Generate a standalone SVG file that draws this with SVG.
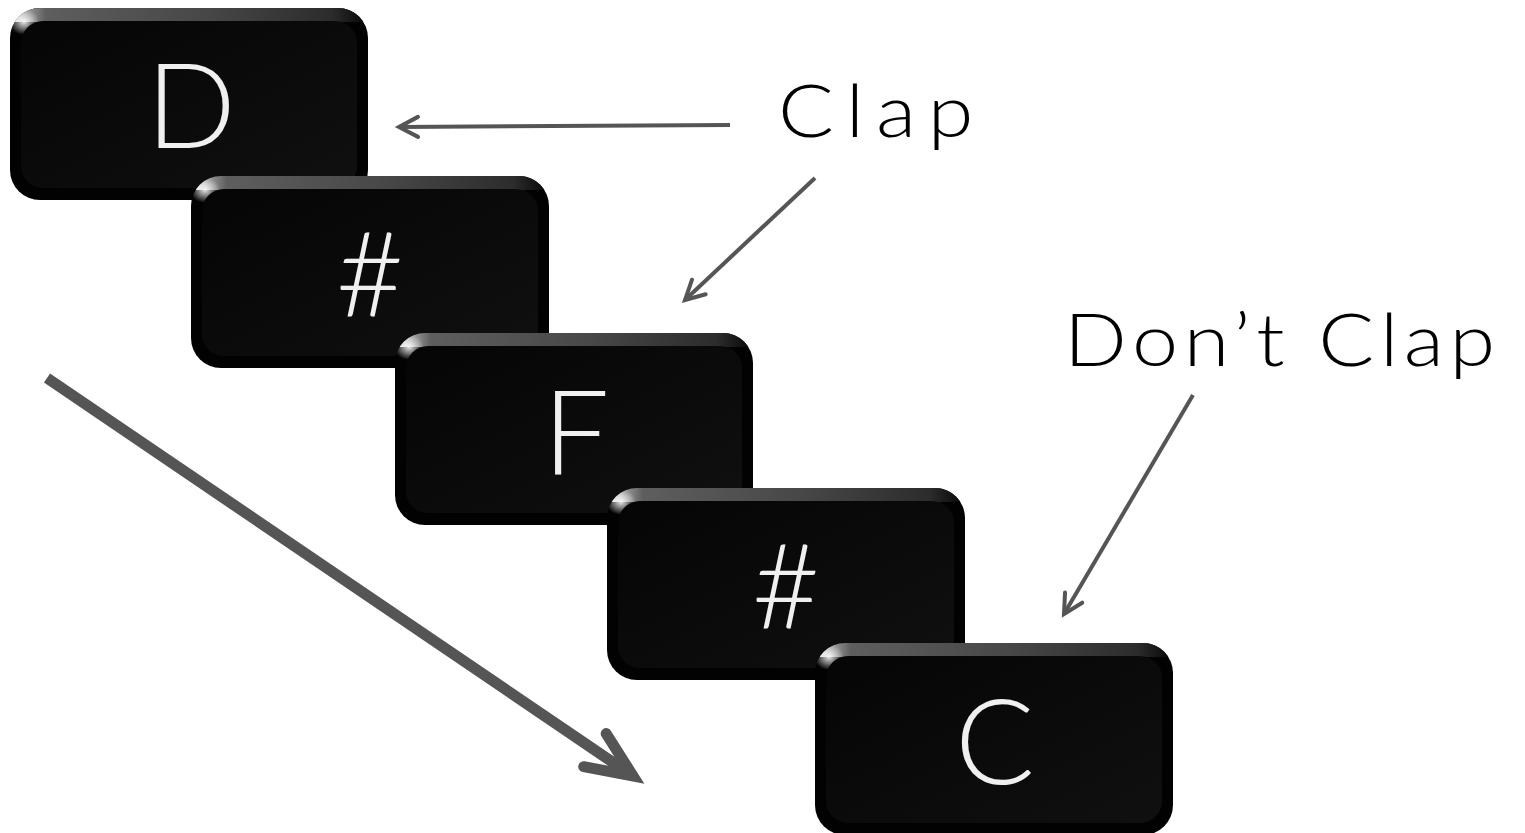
<svg xmlns="http://www.w3.org/2000/svg" xmlns:xlink="http://www.w3.org/1999/xlink" width="1525" height="833" viewBox="0 0 1525 833">
<style>
.lbl{font-family:Lato,"Liberation Sans",sans-serif;font-weight:300;font-size:72px;fill:#000;}
.key-t{font-family:Lato,"Liberation Sans",sans-serif;font-weight:300;font-size:118px;fill:#f0f0f0;text-anchor:middle;}
.conn{fill:none;stroke:#555;stroke-width:4;}
.big{fill:none;stroke:#555;stroke-width:11;}
</style>
<defs>
<linearGradient id="hl" x1="0" y1="0" x2="1" y2="0">
<stop offset="0" stop-color="#ffffff"/>
<stop offset="0.05" stop-color="#9a9a9a"/>
<stop offset="0.1" stop-color="#5e5e5e"/>
<stop offset="0.55" stop-color="#474747"/>
<stop offset="0.9" stop-color="#2c2c2c"/>
<stop offset="1" stop-color="#050505"/>
</linearGradient>
<linearGradient id="face" x1="0" y1="0" x2="1" y2="1">
<stop offset="0" stop-color="#050505"/>
<stop offset="1" stop-color="#101010"/>
</linearGradient>
<radialGradient id="corner" cx="0.5" cy="0.5" r="0.5">
<stop offset="0" stop-color="#ffffff" stop-opacity="0.9"/>
<stop offset="1" stop-color="#ffffff" stop-opacity="0"/>
</radialGradient>
<clipPath id="kclip">
<rect x="0" y="0" width="358" height="192" rx="30"/>
</clipPath>
<g id="key">
<rect x="0" y="0" width="358" height="192" rx="30" fill="#020202"/>
<g clip-path="url(#kclip)">
<rect x="0" y="0" width="358" height="14" fill="url(#hl)"/>
<ellipse cx="14" cy="14" rx="15" ry="13" fill="url(#corner)"/>
</g>
<rect x="11" y="13" width="336" height="167" rx="22" fill="url(#face)"/>
</g>
<marker id="ah" markerUnits="userSpaceOnUse" viewBox="-30 -20 40 40" refX="0" refY="0" markerWidth="40" markerHeight="40" orient="auto" overflow="visible">
<path d="M-19,-10 L0,0 L-19,10" fill="none" stroke="#555" stroke-width="4" stroke-linecap="round"/>
</marker>
<marker id="ahb" markerUnits="userSpaceOnUse" viewBox="-70 -40 90 80" refX="0" refY="0" markerWidth="90" markerHeight="80" orient="auto" overflow="visible">
<path d="M-46,-20 L0,0 L-46,20" fill="none" stroke="#555" stroke-width="11" stroke-linecap="round"/>
</marker>
</defs>
<rect width="1525" height="833" fill="#fff"/>
<g id="key-d" transform="translate(10,8)">
<use xlink:href="#key"/>
<text class="key-t" x="181" y="140">D</text>
</g>
<g id="key-sharp1" transform="translate(191,176)">
<use xlink:href="#key"/>
<text class="key-t" x="179" y="140">#</text>
</g>
<g id="key-f" transform="translate(395,333)">
<use xlink:href="#key"/>
<text class="key-t" x="181" y="142">F</text>
</g>
<g id="key-sharp2" transform="translate(607,488)">
<use xlink:href="#key"/>
<text class="key-t" x="179" y="140">#</text>
</g>
<g id="key-c" transform="translate(815,643)">
<use xlink:href="#key"/>
<text class="key-t" x="180" y="141">C</text>
</g>
<g id="label-clap" transform="translate(778,137) scale(1.15,1)">
<text class="lbl" x="0" y="0" textLength="170" lengthAdjust="spacing">Clap</text>
</g>
<g id="label-dont-clap" transform="translate(1064,366) scale(1.15,1)">
<text class="lbl" x="0" y="0" textLength="375" lengthAdjust="spacing">Don’t Clap</text>
</g>
<g id="connectors">
<line class="conn" x1="730" y1="125" x2="399" y2="127" marker-end="url(#ah)"/>
<line class="conn" x1="815" y1="178" x2="685" y2="300" marker-end="url(#ah)"/>
<line class="conn" x1="1193" y1="395" x2="1064" y2="614" marker-end="url(#ah)"/>
<line class="big" x1="47" y1="378" x2="633" y2="776" marker-end="url(#ahb)"/>
</g>
</svg>
